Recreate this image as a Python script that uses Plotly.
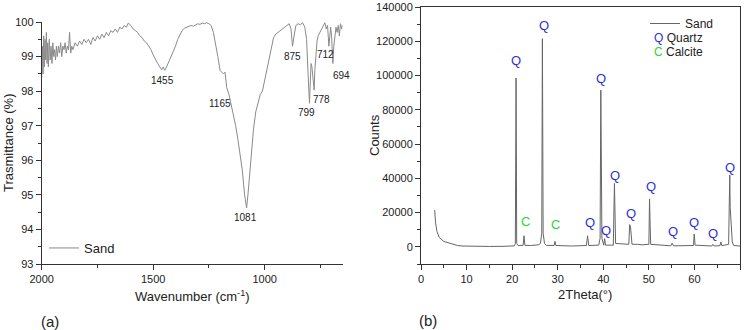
import plotly.graph_objects as go

W, H = 746, 330

# ---------------- FTIR data (a) ----------------
ir_wavenumber = [2000, 1997, 1994, 1991, 1988, 1985, 1982, 1979, 1976, 1973, 1970, 1966, 1962, 1958,
                 1954, 1950, 1946, 1942, 1938, 1934, 1930, 1925, 1920, 1915, 1910, 1905, 1900, 1895,
                 1890, 1885, 1880, 1875, 1870, 1865, 1860, 1850, 1840, 1830, 1820, 1810, 1800, 1790,
                 1780, 1770, 1760, 1750, 1740, 1730, 1720, 1710, 1700, 1690, 1680, 1670, 1660, 1650,
                 1640, 1630, 1620, 1612, 1600, 1590, 1580, 1570, 1560, 1550, 1540, 1530, 1520, 1510,
                 1500, 1490, 1480, 1470, 1462, 1455, 1448, 1440, 1430, 1420, 1410, 1400, 1390, 1380,
                 1370, 1360, 1350, 1340, 1330, 1320, 1310, 1300, 1290, 1280, 1270, 1260, 1250, 1240,
                 1230, 1220, 1210, 1200, 1192, 1185, 1178, 1170, 1160, 1150, 1140, 1130, 1120, 1110,
                 1100, 1090, 1081, 1075, 1068, 1060, 1050, 1040, 1030, 1020, 1010, 1000, 990, 980,
                 970, 960, 950, 940, 930, 920, 910, 900, 890, 882, 875, 868, 860, 850, 840, 830, 820,
                 812, 806, 801, 799, 796, 792, 788, 784, 781, 778, 775, 770, 765, 760, 752, 745, 738,
                 730, 724, 718, 712, 708, 704, 700, 697, 694, 690, 686, 680, 675, 670, 665, 660, 655, 651]
ir_transmittance = [98.4, 99.3, 98.5, 99.6, 98.7, 99.5, 98.9, 99.7, 98.8, 99.4, 98.7, 99.5, 98.9, 99.3,
                    98.8, 99.4, 99.0, 99.2, 98.9, 99.3, 99.0, 99.3, 99.1, 99.4, 99.0, 99.3, 99.2, 99.4,
                    99.1, 99.3, 99.2, 99.7, 99.1, 99.3, 99.2, 99.4, 99.3, 99.45, 99.35, 99.5, 99.4, 99.5,
                    99.35, 99.55, 99.45, 99.6, 99.5, 99.65, 99.55, 99.7, 99.6, 99.75, 99.7, 99.8, 99.7, 99.85,
                    99.8, 99.9, 99.85, 99.97, 99.9, 99.8, 99.75, 99.7, 99.6, 99.55, 99.45, 99.4, 99.3, 99.2,
                    99.05, 98.9, 98.8, 98.7, 98.62, 98.7, 98.6, 98.7, 98.85, 98.95, 99.1, 99.3, 99.5, 99.65,
                    99.75, 99.82, 99.85, 99.87, 99.9, 99.88, 99.92, 99.95, 99.93, 99.97, 99.95, 99.98, 99.95, 99.9,
                    99.7, 99.4, 99.0, 98.6, 98.55, 98.5, 98.55, 98.1, 97.9, 97.6, 97.35, 97.0, 96.6, 96.2,
                    95.7, 95.0, 94.62, 95.0, 95.6, 96.2, 96.9, 97.4, 97.7, 97.9, 98.0, 98.3, 98.7, 99.0,
                    99.3, 99.55, 99.65, 99.7, 99.75, 99.8, 99.85, 99.9, 99.95, 99.8, 99.3, 99.6, 99.9, 99.95, 99.92, 99.98, 99.85,
                    99.5, 98.3, 97.9, 97.65, 98.4, 98.8, 98.7, 98.4, 98.1, 98.03, 98.6, 99.2, 99.45, 99.6, 99.7, 99.8, 99.9,
                    99.98, 99.8, 99.9, 99.3, 99.6, 99.85, 99.6, 99.1, 98.8, 99.3, 99.6, 99.85, 99.7, 99.9, 99.6, 99.95, 99.8, 99.9]

ir_peak_labels = ["1455", "1165", "1081", "875", "799", "778", "712", "694"]
ir_peak_label_x = [1456, 1199, 1084, 874, 813, 747, 726, 655]
ir_peak_label_y = [98.32, 97.65, 94.35, 99.0, 97.39, 97.76, 99.07, 98.44]

# ---------------- XRD data (b) ----------------
xrd_2theta = [3.0, 3.2, 3.5, 4.0, 5.0, 6.0, 7.0, 8.0, 9.0, 10.0, 12.0, 15.0, 18.0, 20.5, 20.7, 20.86,
              21.0, 21.3, 22.4, 22.6, 22.8, 24.0, 25.8, 26.2, 26.5, 26.64, 26.8, 27.1, 27.5, 29.2,
              29.4, 29.6, 33.0, 36.3, 36.55, 36.8, 39.0, 39.3, 39.46, 39.55, 39.7, 40.1, 40.3, 40.5,
              42.2, 42.45, 42.55, 42.7, 45.6, 45.8, 46.0, 46.3, 47.5, 48.5, 50.0, 50.15, 50.25, 50.4,
              54.8, 55.1, 55.4, 57.3, 59.8, 59.95, 60.15, 63.8, 64.05, 64.3, 65.6, 65.8, 66.0, 67.5,
              67.75, 67.85, 68.1, 68.3, 68.6, 70.0]
xrd_counts = [21500, 14000, 9000, 5500, 3200, 2300, 1500, 800, 500, 400, 300, 250, 300, 600, 2000, 98500,
              2000, 800, 900, 6500, 900, 800, 1200, 2000, 8000, 121500, 8000, 2000, 900, 800,
              3200, 800, 500, 800, 6500, 800, 1000, 5000, 91500, 55000, 5000, 1000, 4800, 1000,
              1000, 37000, 19000, 2000, 1500, 13000, 11000, 1500, 1500, 1200, 1500, 28000, 16000, 1500,
              600, 2200, 600, 800, 800, 7500, 1000, 500, 1500, 500, 700, 2800, 700, 1500,
              42000, 23000, 8000, 3000, 800, 500]

phase_labels = ["Q", "C", "Q", "C", "Q", "Q", "Q", "Q", "Q", "Q", "Q", "Q", "Q", "Q"]
phase_label_x = [20.8, 23.0, 26.9, 29.6, 37.0, 39.6, 40.6, 42.6, 46.0, 50.4, 55.2, 60.0, 64.0, 67.8]
phase_label_y = [109000, 15000, 129300, 13000, 14500, 98500, 9500, 41700, 19200, 35300, 8700, 14000, 7800, 46500]
phase_colors = {"Q": "#2f2fd6", "C": "#2fd62f"}

FONT = "Liberation Sans, Arial, sans-serif"
AX = "#333333"

fig = go.Figure()
fig.add_trace(go.Scatter(x=ir_wavenumber, y=ir_transmittance, mode="lines", name="Sand",
                         line=dict(color="#8a8a8a", width=1), xaxis="x", yaxis="y",
                         legend="legend", showlegend=True))
fig.add_trace(go.Scatter(x=xrd_2theta, y=xrd_counts, mode="lines", name="Sand",
                         line=dict(color="#666666", width=1), xaxis="x2", yaxis="y2",
                         legend="legend2", showlegend=True))

def px_x(p):
    return p / W

def px_y(p):
    return 1 - p / H

common = dict(showgrid=False, zeroline=False, linecolor=AX, linewidth=1, ticks="outside",
              ticklen=5, tickcolor=AX, automargin=False,
              tickfont=dict(family=FONT, size=11, color="#222"))

fig.update_layout(
    width=W, height=H, margin=dict(l=0, r=0, t=0, b=0, autoexpand=False),
    paper_bgcolor="white", plot_bgcolor="white", showlegend=True,
    font=dict(family=FONT, color="#222"),
    xaxis=dict(domain=[px_x(41.7), px_x(342.7)], range=[2000, 650], anchor="y",
               tickvals=[2000, 1500, 1000], minor=dict(dtick=250, ticklen=3, ticks="outside", tickcolor=AX),
               **common),
    yaxis=dict(domain=[px_y(264), px_y(22)], range=[93, 100], anchor="x", dtick=1,
               minor=dict(dtick=0.5, ticklen=3, ticks="outside", tickcolor=AX), **common),
    xaxis2=dict(domain=[px_x(421), px_x(740)], range=[0, 70], anchor="y2", dtick=10, mirror=True,
                minor=dict(dtick=5, ticklen=3, ticks="outside", tickcolor=AX), **common),
    yaxis2=dict(domain=[px_y(264), px_y(7)], range=[-10000, 140000], anchor="x2", dtick=20000,
                mirror=True, minor=dict(dtick=10000, ticklen=3, ticks="outside", tickcolor=AX),
                tickformat="d", **common),
    legend=dict(x=px_x(44), y=px_y(233), xanchor="left", yanchor="top", bgcolor="rgba(0,0,0,0)",
                font=dict(family=FONT, size=13, color="#222"), itemwidth=30),
    legend2=dict(x=px_x(645), y=px_y(9), xanchor="left", yanchor="top", bgcolor="rgba(0,0,0,0)",
                 font=dict(family=FONT, size=12, color="#222"), itemwidth=30),
)

ann = []
for t, x, y in zip(ir_peak_labels, ir_peak_label_x, ir_peak_label_y):
    ann.append(dict(x=x, y=y, xref="x", yref="y", text=t, showarrow=False,
                    font=dict(family=FONT, size=10, color="#222")))
for t, x, y in zip(phase_labels, phase_label_x, phase_label_y):
    ann.append(dict(x=x, y=y, xref="x2", yref="y2", text=t, showarrow=False,
                    font=dict(family=FONT, size=13, color=phase_colors[t])))

def paper_text(x, y, text, size=13, angle=0, xanchor="center"):
    return dict(x=px_x(x), y=px_y(y), xref="paper", yref="paper", text=text, textangle=angle,
                xanchor=xanchor, yanchor="middle", showarrow=False,
                font=dict(family=FONT, size=size, color="#222"))

ann += [
    paper_text(192, 296, "Wavenumber (cm<sup>-1</sup>)"),
    paper_text(585, 294, "2Theta(°)"),
    paper_text(8, 143, "Trasmittance (%)", angle=-90),
    paper_text(374, 135, "Counts", angle=-90),
    paper_text(50, 321, "(a)", size=15),
    paper_text(428, 320, "(b)", size=15),
    paper_text(652, 38, "<span style='color:#2f2fd6'>Q</span> Quartz", size=12, xanchor="left"),
    paper_text(652, 52, "<span style='color:#2fd62f'>C</span> Calcite", size=12, xanchor="left"),
]
fig.update_layout(annotations=ann)

fig.write_html("out.html")
